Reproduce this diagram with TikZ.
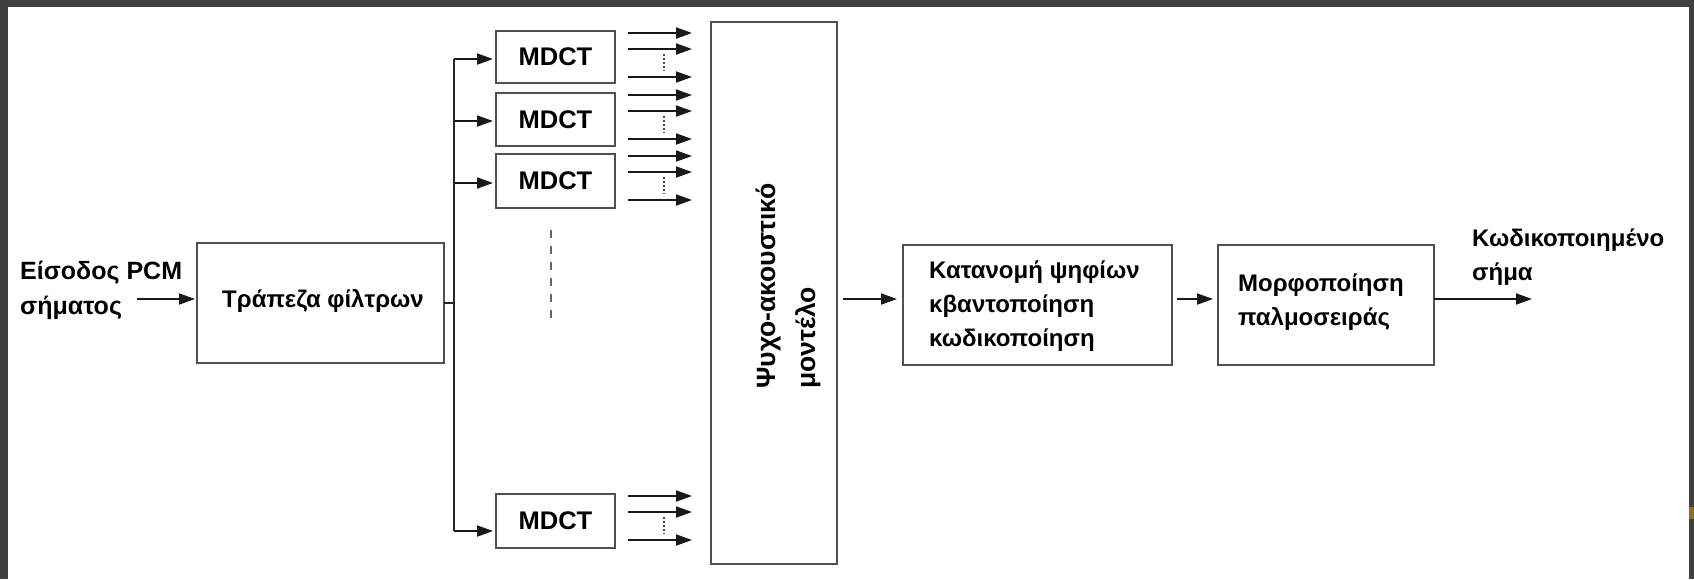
\documentclass[tikz,border=0pt]{standalone}
\usepackage{fontspec}
\setmainfont{Liberation Sans}
\usetikzlibrary{arrows.meta,calc}
\definecolor{framegray}{HTML}{404040}
\definecolor{edgegray}{HTML}{505050}
\definecolor{glitch}{HTML}{8A7020}
\begin{document}
\begin{tikzpicture}[x=1pt,y=-1pt,
  box/.style={draw=edgegray, line width=1.9pt, inner sep=0pt, outer sep=0pt},
  txt/.style={inner sep=0pt, align=left, font=\fontsize{24}{34}\selectfont\bfseries},
  mdctbox/.style={box, minimum width=119pt, minimum height=53pt, font=\fontsize{25.5}{30}\selectfont\bfseries},
  arr/.style={draw=black!90, line width=1.9pt, -{Triangle[length=16pt,width=11pt]}},
  ln/.style={draw=black!85, line width=1.8pt},
  dotsv/.style={draw=black!70, line width=1.6pt, dash pattern=on 2pt off 2pt},
  dashv/.style={draw=black!60, line width=1.5pt, dash pattern=on 8pt off 8pt}
]
\useasboundingbox (0,0) rectangle (1694,579);
\fill[framegray] (0,0) rectangle (1694,579);
\fill[white] (8,7) rectangle (1689,579);
\fill[glitch] (1689,507) rectangle (1694,519);

% boxes
\node[box, minimum width=247pt, minimum height=120pt] (filt) at (320.5,303) {};
\node[txt] (filtt) at (323,301) {Τράπεζα φίλτρων};
\node[mdctbox, minimum height=52pt] (m1) at (555.5,57) {MDCT};
\node[mdctbox] (m2) at (555.5,119.5) {MDCT};
\node[mdctbox, minimum height=54pt] (m3) at (555.5,181) {MDCT};
\node[mdctbox, minimum height=54pt] (m4) at (555.5,521) {MDCT};
\node[box, minimum width=126pt, minimum height=542pt] (psy) at (774,293) {};
\node[txt, rotate=90, font=\fontsize{26.5}{40}\selectfont\bfseries] (psyt) at (788,286) {Ψυχο-ακουστικό\\μοντέλο};
\node[box, minimum width=269pt, minimum height=120pt] (kat) at (1037.5,305) {};
\node[txt, anchor=west] (katt) at (929,306) {Κατανομή ψηφίων\\κβαντοποίηση\\κωδικοποίηση};
\node[box, minimum width=216pt, minimum height=120pt] (morf) at (1326,305) {};
\node[txt, anchor=west] (morft) at (1238,302) {Μορφοποίηση\\παλμοσειράς};

% labels
\node[txt, anchor=west, font=\fontsize{25}{35}\selectfont\bfseries] (inl) at (20,290) {Είσοδος PCM\\σήματος};
\node[txt, anchor=west] (outl) at (1472,257) {Κωδικοποιημένο\\σήμα};

% input
\coordinate (inp) at (137,299);
\draw[arr, shorten >=2pt] (inp) -- (inp -| filt.west);

% bus
\coordinate (bmid) at (454,303);
\coordinate (b1) at (454,59);
\coordinate (b2) at (454,121);
\coordinate (b3) at (454,183);
\coordinate (b4) at (454,531);
\draw[ln] (filt.east) -- (bmid);
\draw[ln] (b1) -- (b4);
\draw[arr, shorten >=3pt] (b1) -- (b1 -| m1.west);
\draw[arr, shorten >=3pt] (b2) -- (b2 -| m2.west);
\draw[arr, shorten >=3pt] (b3) -- (b3 -| m3.west);
\draw[arr, shorten >=3pt] (b4) -- (b4 -| m4.west);

% MDCT outputs
\foreach \b in {m1, m2, m3, m4}{
  \draw[arr] ($(\b.north east)+(13,2)$) -- ++(64,0);
  \draw[arr] ($(\b.north east)+(13,18)$) -- ++(64,0);
  \draw[arr] ($(\b.north east)+(13,46)$) -- ++(64,0);
  \draw[dotsv] ($(\b.north east)+(49,23)$) -- ++(0,17);
}

% vertical ellipsis
\coordinate (e1) at (551,230);
\coordinate (e2) at (551,322);
\draw[dashv] (e1) -- (e2);

% chain
\coordinate (ch) at (843,299);
\coordinate (outp) at (1532,299);
\draw[arr, shorten >=6pt] (ch) -- (ch -| kat.west);
\draw[arr, shorten <=5pt, shorten >=5pt] (kat.east |- ch) -- (ch -| morf.west);
\draw[arr] (morf.east |- ch) -- (outp);
\end{tikzpicture}
\end{document}
